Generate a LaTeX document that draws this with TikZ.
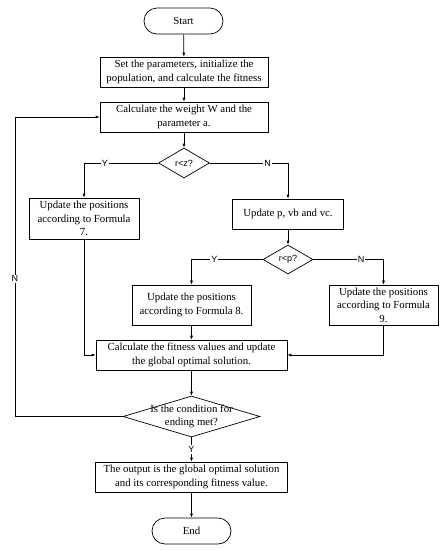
\documentclass[tikz,border=0pt]{standalone}
\usepackage{fontspec}
\setmainfont{Liberation Serif}
\setsansfont{Liberation Sans}
\usetikzlibrary{positioning,shapes.geometric,arrows.meta}

\begin{document}
\begin{tikzpicture}[
  x=1pt,y=-1pt,
  line width=0.7pt,
  proc/.style={draw,align=center,inner xsep=1pt,inner ysep=0.5pt,
               font=\fontsize{10.8}{13.6}\selectfont},
  term/.style={draw,rounded corners=13pt,minimum width=79pt,minimum height=26pt,
               font=\fontsize{10.8}{12}\selectfont},
  dec/.style={diamond,draw,inner sep=0pt},
  lbl/.style={fill=white,inner sep=1pt,font=\sffamily\fontsize{9}{10}\selectfont},
  arr/.style={-{Latex[length=4pt,width=3pt]}}
]
  \useasboundingbox (0,0) rectangle (447,550);

  \node[term] (start) at (183.5,21) {Start};
  \node[proc, minimum width=168pt, minimum height=30pt] (init) at (184,72)
    {Set the parameters, initialize the\\population, and calculate the fitness};
  \node[proc, minimum width=168pt, minimum height=30pt] (weight) at (184,117)
    {Calculate the weight W and the\\parameter a.};
  \node[dec, minimum width=51pt, minimum height=30pt,
        label={[font=\sffamily\fontsize{9}{10}\selectfont]center:r<z?}] (rz) at (184,163) {};

  \node[proc, minimum width=110pt, minimum height=41pt] (formseven) at (84,218.5)
    {Update the positions\\according to Formula\\7.};
  \node[proc, minimum width=111pt, minimum height=30pt] (updp) at (288,214)
    {Update p, vb and vc.};
  \node[dec, minimum width=50pt, minimum height=29pt,
        label={[font=\sffamily\fontsize{9}{10}\selectfont]center:r<p?}] (rp) at (288,259.5) {};

  \node[proc, minimum width=119pt, minimum height=40pt] (formeight) at (191.5,305)
    {Update the positions\\according to Formula 8.};
  \node[proc, minimum width=109pt, minimum height=40pt] (formnine) at (383.5,305)
    {Update the positions\\according to Formula\\9.};
  \node[proc, minimum width=191pt, minimum height=30pt] (fitness) at (191.5,355)
    {Calculate the fitness values and update\\the global optimal solution.};
  \node[dec, minimum width=137pt, minimum height=41pt,
        label={[align=center,font=\fontsize{10.8}{13.6}\selectfont]center:Is the condition for\\ending met?}]
    (ending) at (191.5,416.5) {};
  \node[proc, minimum width=192pt, minimum height=30pt] (output) at (191.5,477)
    {The output is the global optimal solution\\and its corresponding fitness value.};
  \node[term] (stop) at (191.5,531) {End};

  \coordinate (loop) at (15,416.5);

  \draw[arr] (start) -- (init);
  \draw[arr] (init) -- (weight);
  \draw[arr] (weight) -- (rz);
  \draw[arr] (rz.west) -| node[lbl,pos=0.36] {Y} (formseven.north);
  \draw[arr] (rz.east) -| node[lbl,pos=0.37] {N} (updp.north);
  \draw[arr] (updp) -- (rp);
  \draw[arr] (rp.west) -| node[lbl,pos=0.34] {Y} (formeight.north);
  \draw[arr] (rp.east) -| node[lbl,pos=0.34] {N} (formnine.north);
  \draw[arr] (formseven.south) |- (fitness.west);
  \draw[arr] (formeight) -- (fitness);
  \draw[arr] (formnine.south) |- (fitness.east);
  \draw[arr] (fitness) -- (ending);
  \draw[arr] (ending.west) -- (loop) |- node[lbl,pos=0.23] {N} (weight.west);
  \draw[arr] (ending) -- node[lbl] {Y} (output);
  \draw[arr] (output) -- (stop);
\end{tikzpicture}
\end{document}
